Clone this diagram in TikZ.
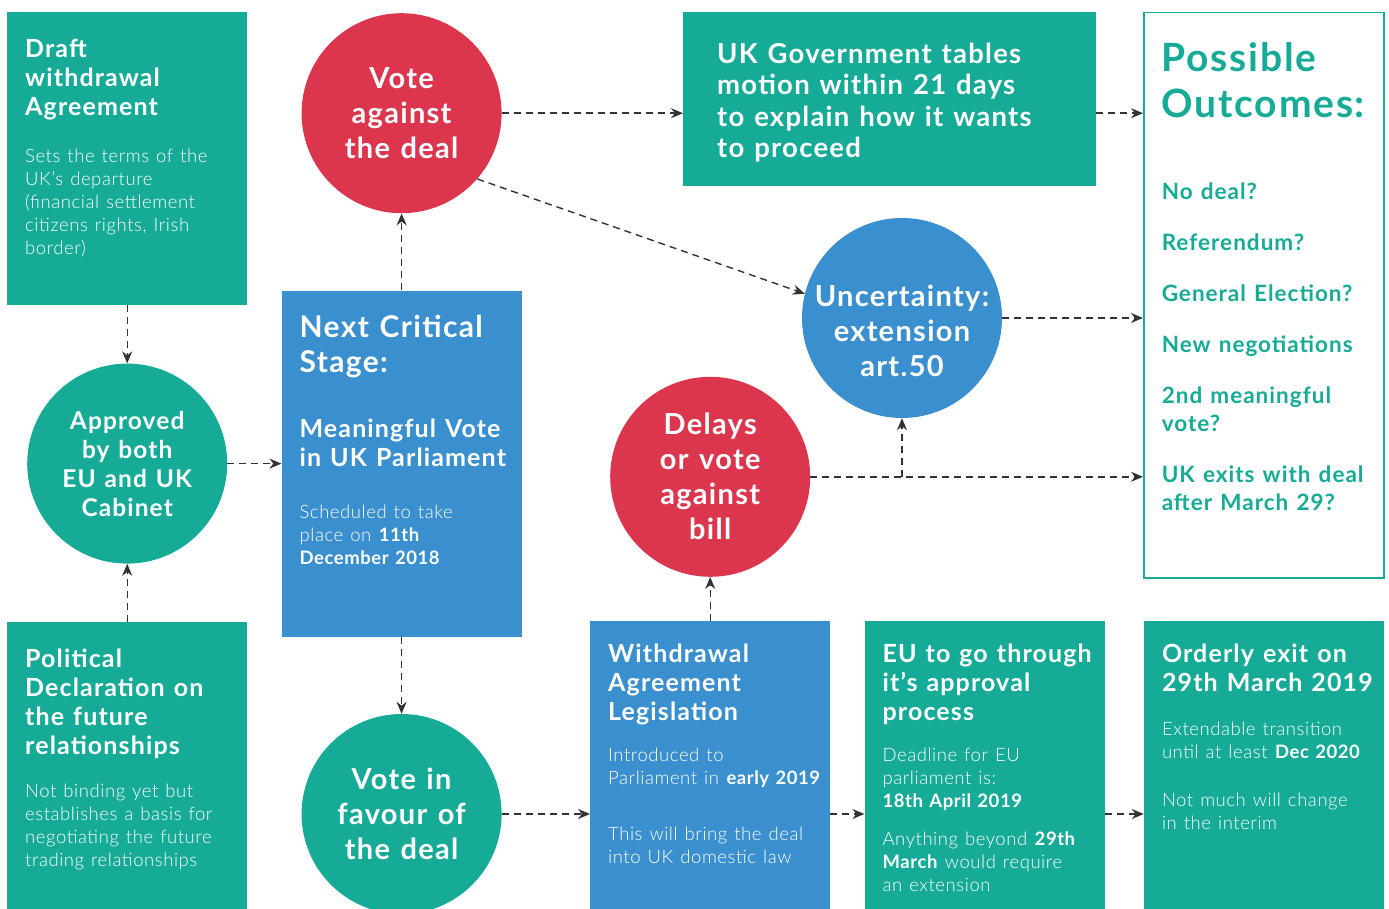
\documentclass[tikz,border=0pt]{standalone}
\usepackage{fontspec}
\setmainfont{Lato}[LetterSpace=4.5, WordSpace=1.25]
\newfontfamily\lightfont{Lato Light}[BoldFont={Lato Bold}, LetterSpace=3, WordSpace=1.25]
\usetikzlibrary{arrows.meta,positioning,calc}
\definecolor{teal1}{RGB}{22,171,150}
\definecolor{red1}{RGB}{220,54,78}
\definecolor{blue1}{RGB}{58,143,206}
\definecolor{arrowgray}{RGB}{51,51,51}
\newcommand\headfont{\bfseries\fontsize{25}{29}\selectfont}
\newcommand\bigheadfont{\bfseries\fontsize{30}{35}\selectfont}
\newcommand\motionfont{\bfseries\fontsize{27.5}{31.5}\selectfont}
\newcommand\bodyfont{\lightfont\fontsize{18.5}{23}\selectfont}
\newcommand\circfont{\bfseries\fontsize{29}{35}\selectfont}
\newcommand\smallcircfont{\bfseries\fontsize{24.5}{29}\selectfont}
\newcommand\outtitlefont{\bfseries\fontsize{39}{46}\selectfont}
\newcommand\outitemfont{\bfseries\fontsize{22.5}{28}\selectfont}
\tikzset{
	panel/.style={
		rectangle, anchor=north west, inner xsep=18pt, inner ysep=0pt,
		text width=204pt, align=flush left, text=white,
		execute at begin node={\rightskip=-30pt plus 1fil}
	},
	%
	tealpanel/.style={panel, fill=teal1},
	%
	bluepanel/.style={panel, fill=blue1},
	%
	bubble/.style={
		circle, minimum size=200pt, inner sep=0pt, text=white, align=center,
		font=\circfont
	},
	%
	flow/.style={
		-{Stealth[length=12pt, width=10pt]}, line width=1.4pt, draw=arrowgray,
		dash pattern=on 7pt off 5pt
	}
}

\begin{document}
\begin{tikzpicture}[x=1pt, y=-1pt]
\useasboundingbox (0,0) rectangle (1389,909);
% left column
\node (draft) [tealpanel, text height=45pt, text depth=248pt] at (7,12) {
	{\headfont Draft\\withdrawal\\Agreement\par}\vspace{24pt}
	{\bodyfont Sets the terms of the\\UK’s departure\\(financial settlement\\citizens rights, Irish\\border)\par}
};
\node (approved) [bubble, fill=teal1, font=\smallcircfont, below=58pt of draft] {Approved\\by both\\EU and UK\\Cabinet};
\node (political) [tealpanel, below=58pt of approved, text height=45pt, text depth=243pt] {
	{\headfont Political\\Declaration on\\the future\\relationships\par}\vspace{20pt}
	{\bodyfont Not binding yet but\\establishes a basis for\\negotiating the future\\trading relationships\par}
};
% the vote
\node (next) [bluepanel, right=54pt of approved, text height=47pt, text depth=299pt] {
	{\bigheadfont Next Critical\\Stage:\par}\vspace{36pt}
	{\headfont Meaningful Vote\\in UK Parliament\par}\vspace{29pt}
	{\bodyfont Scheduled to take\\place on \textbf{11th}\\\textbf{December 2018}\par}
};
\node (against) [bubble, fill=red1, above=77pt of next] {Vote\\against\\the deal};
\node (favour) [bubble, fill=teal1, below=77pt of next] {Vote in\\favour of\\the deal};
% after a vote against
\node (ukgov) [tealpanel, inner xsep=34pt, text width=345pt, text height=51pt, text depth=123pt] at (683,12) {
	{\motionfont UK Government tables\\motion within 21 days\\to explain how it wants\\to proceed\par}
};
\node (unc) [bubble, fill=blue1, inner sep=-8pt] at (902,318) {\rule{0pt}{47pt}Uncertainty:\\extension\\art.50};
% after a vote in favour
\node (withdraw) [bluepanel, text height=41pt, text depth=247pt] at (590,621) {
	{\headfont Withdrawal\\Agreement\\Legislation\par}\vspace{18pt}
	{\bodyfont Introduced to\\Parliament in \textbf{early 2019}\\[33pt]This will bring the deal\\into UK domestic law\par}
};
\node (delays) [bubble, fill=red1, above=44pt of withdraw] {Delays\\or vote\\against\\bill};
\node (eu) [tealpanel, right=34pt of withdraw, text height=41pt, text depth=247pt] {
	{\headfont EU to go through\\it’s approval\\process\par}\vspace{18pt}
	{\bodyfont Deadline for EU\\parliament is:\\\textbf{18th April 2019}\\[15pt]Anything beyond \textbf{29th}\\\textbf{March} would require\\an extension\par}
};
\node (orderly) [tealpanel, right=39pt of eu, text height=41pt, text depth=247pt] {
	{\headfont Orderly exit on\\29th March 2019\par}\vspace{21pt}
	{\bodyfont Extendable transition\\until at least \textbf{Dec 2020}\\[25pt]Not much will change\\in the interim\par}
};
% outcomes
\node (outcomes) [panel, draw=teal1, line width=1.5pt, fill=white, text=teal1, text height=59pt, text depth=506pt] at (1143,12) {
	{\outtitlefont Possible\\Outcomes:\par}\vspace{54pt}
	{\outitemfont No deal?\\[23pt]Referendum?\\[23pt]General Election?\\[23pt]New negotiations\\[23pt]2nd meaningful\\vote?\\[23pt]UK exits with deal\\after March 29?\par}
};
% connectors
\draw[flow] (draft) -- (approved);
\draw[flow] (political) -- (approved);
\draw[flow] (approved) -- (next);
\draw[flow] (next) -- (against);
\draw[flow] (next) -- (favour);
\draw[flow] (against) -- (against -| ukgov.west);
\draw[flow] (against.-41) -- (unc.166);
\draw[flow] (against -| ukgov.east) -- (against -| outcomes.west);
\draw[flow] (unc) -- (unc -| outcomes.west);
\draw[flow] (delays) -- (delays -| outcomes.west);
\draw[flow] (delays -| unc) -- (unc);
\draw[flow] (withdraw) -- (delays);
\draw[flow] (favour) -- (favour -| withdraw.west);
\draw[flow] (favour -| withdraw.east) -- (favour -| eu.west);
\draw[flow] (favour -| eu.east) -- (favour -| orderly.west);
\end{tikzpicture}
\end{document}
